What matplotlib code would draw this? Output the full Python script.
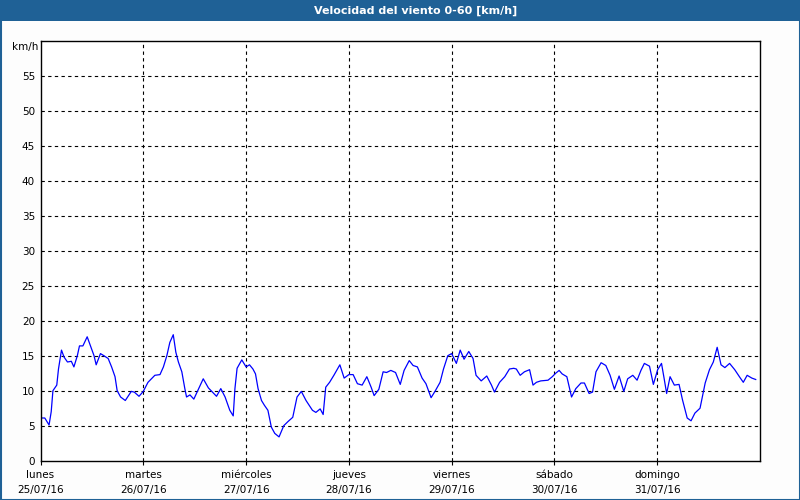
import matplotlib
matplotlib.use("Agg")
import matplotlib.pyplot as plt
from matplotlib.patches import Rectangle

# horas desde lunes 25/07/16 00:00 y velocidad del viento (km/h)
horas = [0, 1.0, 2.0, 2.5, 2.9, 3.8, 4.2, 4.9, 5.5, 6.3, 7.2, 7.8, 8.6, 9.1, 9.9,
         10.9, 11.9, 12.5, 13.0, 14.0, 14.8, 15.8, 16.6, 17.4, 17.9, 18.7, 19.8, 21.2,
         21.9, 23.0,
         24.0, 25.1, 26.7, 27.9, 28.7, 29.5, 30.2, 31.0, 31.6, 32.2, 33.0, 33.7, 34.1,
         34.9, 35.8, 37.1, 38.0, 39.2, 40.3, 41.1, 42.1, 43.1, 44.2, 45.0, 45.4, 45.9,
         47.0, 48.0,
         48.8, 49.6, 50.2, 50.8, 51.6, 52.3, 53.1, 53.9, 54.7, 55.7, 56.8, 57.8, 58.9,
         59.9, 60.9, 62.0, 63.5, 64.3, 65.3, 66.0, 66.6, 67.5, 68.5, 69.9, 70.9, 72.0,
         73.0, 74.0, 75.1, 76.2, 77.2, 77.9, 79.0, 80.0, 80.8, 81.8, 82.9, 84.0, 84.9,
         86.1, 87.0, 88.0, 89.1, 90.0, 91.2, 92.2, 93.3, 94.1, 95.1, 96.0,
         97.1, 98.0, 98.9, 100.0, 101.0, 101.7, 102.9, 104.2, 105.3, 106.0, 107.2,
         108.4, 109.5, 110.5, 111.1, 112.0, 113.0, 114.2, 115.0, 115.8, 116.8, 118.5,
         119.5, 120.3,
         121.1, 121.8, 122.9, 124.0, 125.0, 126.2, 127.0, 128.1, 128.9, 129.7, 130.9,
         132.0, 133.0, 134.0, 135.1, 136.2, 137.1, 138.3, 139.3, 140.2, 141.0, 142.2,
         143.1, 144.1, 145.0,
         145.6, 146.2, 147.0, 148.0, 149.1, 149.9, 151.0, 151.9, 152.8, 154.0, 155.2,
         156.2, 157.1, 158.0, 158.9, 159.8, 160.9, 162.1, 163.3, 164.1, 165.0, 166.1,
         167.0]
velocidad = [6.1, 6.1, 5.1, 7.0, 10.0, 10.8, 13.1, 15.8, 14.8, 14.1, 14.2, 13.4, 15.0,
             16.4, 16.4, 17.7, 16.0, 15.0, 13.7, 15.3, 15.0, 14.6, 13.4, 12.0, 10.0, 9.1,
             8.6, 9.9, 9.8, 9.2,
             9.9, 11.2, 12.2, 12.3, 13.4, 15.0, 16.9, 18.0, 15.5, 14.1, 12.7, 10.3, 9.1,
             9.4, 8.8, 10.5, 11.7, 10.4, 9.7, 9.2, 10.3, 9.1, 7.2, 6.4, 10.3, 13.2,
             14.4, 13.4,
             13.7, 13.1, 12.4, 10.3, 8.6, 7.9, 7.2, 4.8, 3.9, 3.4, 5.0, 5.6, 6.2,
             9.1, 9.9, 8.6, 7.2, 6.9, 7.4, 6.6, 10.5, 11.2, 12.2, 13.7, 11.8, 12.3,
             12.3, 11.0, 10.8, 12.0, 10.5, 9.3, 10.2, 12.7, 12.6, 12.9, 12.6, 10.9, 12.9,
             14.3, 13.6, 13.4, 11.8, 11.0, 9.0, 10.0, 11.2, 13.1, 15.0, 15.3,
             13.9, 15.8, 14.5, 15.6, 14.6, 12.2, 11.4, 12.1, 10.8, 9.8, 11.2,
             12.0, 13.1, 13.2, 13.1, 12.2, 12.7, 13.0, 10.8, 11.2, 11.4, 11.5,
             12.0, 12.5,
             12.9, 12.4, 12.0, 9.1, 10.3, 11.1, 11.1, 9.6, 9.8, 12.7, 14.0,
             13.6, 12.2, 10.2, 12.1, 9.9, 11.7, 12.2, 11.5, 12.9, 13.9, 13.5,
             10.9, 13.0, 13.9,
             11.8, 9.6, 12.0, 10.8, 10.9, 8.7, 6.1, 5.7, 6.8, 7.5, 11.1,
             13.0, 14.1, 16.2, 13.7, 13.3, 13.9, 13.0, 11.9, 11.2, 12.2, 11.8,
             11.6]

dias = ["lunes", "martes", "miércoles", "jueves", "viernes", "sábado", "domingo"]
fechas = ["25/07/16", "26/07/16", "27/07/16", "28/07/16", "29/07/16", "30/07/16", "31/07/16"]
y_ticks = [0, 5, 10, 15, 20, 25, 30, 35, 40, 45, 50, 55]

AZUL = "#1F6196"

plt.rcParams["font.family"] = ["DejaVu Sans"]
fig = plt.figure(figsize=(8, 5), dpi=100, facecolor="#FDFDFD")
W, H = 800, 500

# barra de título + marco azul de la ventana
fig.patches.append(Rectangle((0, 1 - 21 / H), 1, 21 / H, transform=fig.transFigure,
                             facecolor=AZUL, edgecolor="none", zorder=0))
fig.patches.append(Rectangle((0.5 / W, 0.5 / H), 1 - 1 / W, 1 - 1 / H, transform=fig.transFigure,
                             facecolor="none", edgecolor=AZUL, linewidth=1.5, zorder=1))
fig.text(416 / W, 1 - 10.5 / H, "Velocidad del viento 0-60 [km/h]", color="white",
         fontsize=8, fontweight="bold", ha="center", va="center")

ax = fig.add_axes([40.5 / W, (H - 460.7) / H, (760 - 40.5) / W, (460.7 - 40.7) / H])
ax.set_facecolor("white")
ax.plot(horas, velocidad, color="#0000FF", linewidth=0.9)

ax.set_xlim(0, 168)
ax.set_ylim(0, 60)
ax.set_yticks(y_ticks)
ax.set_yticklabels([str(v) for v in y_ticks], fontsize=7.5)
ax.set_xticks([24 * i for i in range(7)])
ax.set_xticklabels([f"{d}\n{f}" for d, f in zip(dias, fechas)], fontsize=7.5, linespacing=1.6)
ax.tick_params(axis="y", length=0, pad=4)
ax.tick_params(axis="x", length=3, width=0.8, pad=4)

for v in y_ticks[1:]:
    ax.axhline(v, color="black", linewidth=0.8, linestyle=(0, (3, 3)), zorder=0)
for i in range(1, 7):
    ax.axvline(24 * i, color="black", linewidth=0.8, linestyle=(0, (3, 3)), zorder=0)

for s in ax.spines.values():
    s.set_linewidth(1.0)
    s.set_color("black")

fig.text(12 / W, 1 - 47 / H, "km/h", fontsize=7.5, ha="left", va="center")

fig.savefig("out.png", dpi=100, facecolor=fig.get_facecolor())
